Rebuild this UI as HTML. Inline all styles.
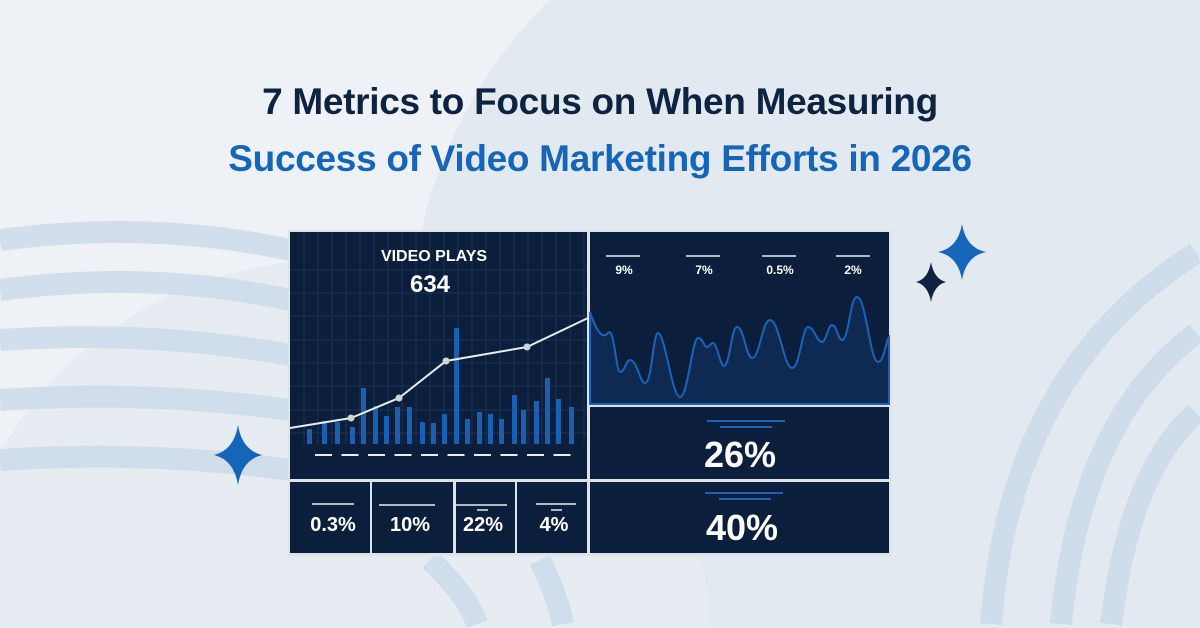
<!DOCTYPE html>
<html><head><meta charset="utf-8"><style>
*{margin:0;padding:0}
html,body{width:1200px;height:628px;overflow:hidden}
body{background:#eef2f6;font-family:"Liberation Sans",sans-serif}
#w{position:relative;width:1200px;height:628px;overflow:hidden}
svg{display:block;position:absolute;left:0;top:0}
.t{position:absolute;left:0;width:1200px;text-align:center;font-weight:bold;font-size:37px;line-height:44px;letter-spacing:-0.3px}
</style></head><body><div id="w">
<svg width="1200" height="628" viewBox="0 0 1200 628" overflow="hidden">
<path d="M550 0 L1200 0 L1200 628 L520 628 A460 460 0 0 1 550 0 Z" fill="#e3e9f1"/>
<path d="M0 628 L0 452 A380 380 0 0 1 710 628 Z" fill="#e6ecf2"/>
<g fill="none" stroke="#c9d8e8" stroke-width="22" opacity="0.75">
<path d="M0 240 Q150 220 290 250"/><path d="M0 290 Q150 270 290 300"/>
<path d="M0 340 Q150 330 290 355"/><path d="M0 400 Q150 390 290 410"/>
<path d="M0 460 Q150 450 290 470"/>
<path d="M1061 624 Q1080 420 1196 333"/><path d="M1111 624 Q1130 470 1196 413"/>
<path d="M991 624 Q1010 370 1196 253"/>
<path d="M430 560 Q468 596 477 624"/><path d="M540 560 Q558 598 563 624"/>
</g>
<rect x="288" y="230" width="604" height="326" fill="#dde3ea"/>
<g fill="#0b1f3c">
<rect x="290" y="232" width="297" height="247"/>
<rect x="590" y="232" width="299" height="172"/>
<rect x="590" y="407" width="299" height="72"/>
<rect x="590" y="482" width="299" height="71"/>
<rect x="290" y="482" width="80" height="71"/>
<rect x="372" y="482" width="81" height="71"/>
<rect x="456" y="482" width="59" height="71"/>
<rect x="517" y="482" width="70" height="71"/>
</g>
<g stroke="#2a4264" stroke-width="1" opacity="0.55">
<path d="M304 232V444M318 232V444M332 232V444M346 232V444M360 232V444M374 232V444M388 232V444M402 232V444M416 232V444M430 232V444M444 232V444M458 232V444M472 232V444M486 232V444M500 232V444M514 232V444M528 232V444M542 232V444M556 232V444M570 232V444M584 232V444"/>
<path d="M290 270H587M290 293H587M290 316H587M290 340H587M290 363H587M290 386H587M290 410H587M290 433H587"/>
</g>
<g fill="#1a5fb0">
<rect x="307" y="429" width="5" height="15"/><rect x="322" y="421" width="5" height="23"/><rect x="335" y="422" width="5" height="22"/><rect x="350" y="427" width="5" height="17"/><rect x="361" y="388" width="5" height="56"/><rect x="373" y="406" width="5" height="38"/><rect x="384" y="416" width="5" height="28"/><rect x="395" y="407" width="5" height="37"/><rect x="407" y="407" width="5" height="37"/><rect x="420" y="422" width="5" height="22"/><rect x="431" y="423" width="5" height="21"/><rect x="442" y="414" width="5" height="30"/><rect x="454" y="328" width="5" height="116"/><rect x="465" y="419" width="5" height="25"/><rect x="477" y="412" width="5" height="32"/><rect x="488" y="414" width="5" height="30"/><rect x="499" y="419" width="5" height="25"/><rect x="512" y="395" width="5" height="49"/><rect x="521" y="410" width="5" height="34"/><rect x="534" y="401" width="5" height="43"/><rect x="545" y="378" width="5" height="66"/><rect x="556" y="399" width="5" height="45"/><rect x="569" y="407" width="5" height="37"/>
</g>
<polyline points="290,428 351,418 399,398 446,361 527,347 588,318" fill="none" stroke="#e8ebef" stroke-width="2"/>
<g fill="#cfd4da"><circle cx="351" cy="418" r="3.5"/><circle cx="399" cy="398" r="3.5"/><circle cx="446" cy="361" r="3.5"/><circle cx="527" cy="347" r="3.5"/></g>
<line x1="315" y1="455" x2="577" y2="455" stroke="#e8ebef" stroke-width="2" stroke-dasharray="17,9.5"/>
<path d="M590 312 C596 330 602 340 608 333 C614 325 616 372 620 372 C625 372 626 360 630 360 C637 360 640 383 645 383 C652 383 653 333 658 333 C665 333 672 397 680 397 C688 397 692 338 698 338 C703 338 704 347 707 347 C710 347 710 343 713 343 C717 343 720 366 724 366 C730 366 731 327 737 327 C744 327 746 358 752 358 C760 358 762 320 770 320 C779 320 784 368 792 368 C800 368 802 327 808 327 C814 327 817 342 822 342 C826 342 828 325 832 325 C837 325 838 340 842 340 C849 340 850 297 857 297 C866 297 870 362 878 362 C884 362 886 340 889 337 L889 404 L590 404 Z" fill="#0f2a52" stroke="#1b63b8" stroke-width="2"/>
<g stroke="#e8ebef" stroke-width="1.5"><path d="M606 256H640M686 256H720M762 256H796M836 256H870"/>
<path d="M312 504H354M379 505H435M456 505H507M536 504H576M477 510H488M551 510H562"/></g>
<g stroke="#1b63b8" stroke-width="2"><path d="M707 421H785M720 427H772M705 493H783M719 499H771"/></g>
<g fill="#fff" font-weight="bold" text-anchor="middle">
<text x="434" y="261" font-size="16">VIDEO PLAYS</text>
<text x="430" y="292" font-size="24">634</text>
<text x="624" y="274" font-size="12">9%</text><text x="704" y="274" font-size="12">7%</text><text x="780" y="274" font-size="12">0.5%</text><text x="853" y="274" font-size="12">2%</text>
<text x="740" y="467" font-size="36">26%</text><text x="742" y="540" font-size="36">40%</text>
<text x="333" y="531" font-size="20">0.3%</text><text x="410" y="531" font-size="20">10%</text><text x="483" y="531" font-size="20">22%</text><text x="554" y="531" font-size="20">4%</text>
</g>
<path d="M962 224 Q966 248 986 252 Q966 256 962 280 Q958 256 938 252 Q958 248 962 224Z" fill="#1565b8"/>
<path d="M931 262 Q934 279 946 282 Q934 285 931 302 Q928 285 916 282 Q928 279 931 262Z" fill="#0e2340"/>
<path d="M238 425 Q242 450 262 455 Q242 460 238 485 Q234 460 214 455 Q234 450 238 425Z" fill="#1565b8"/>
</svg>
<div class="t" style="top:80px;color:#0e2340">7 Metrics to Focus on When Measuring</div>
<div class="t" style="top:137px;color:#1565b8">Success of Video Marketing Efforts in 2026</div>
</div></body></html>
